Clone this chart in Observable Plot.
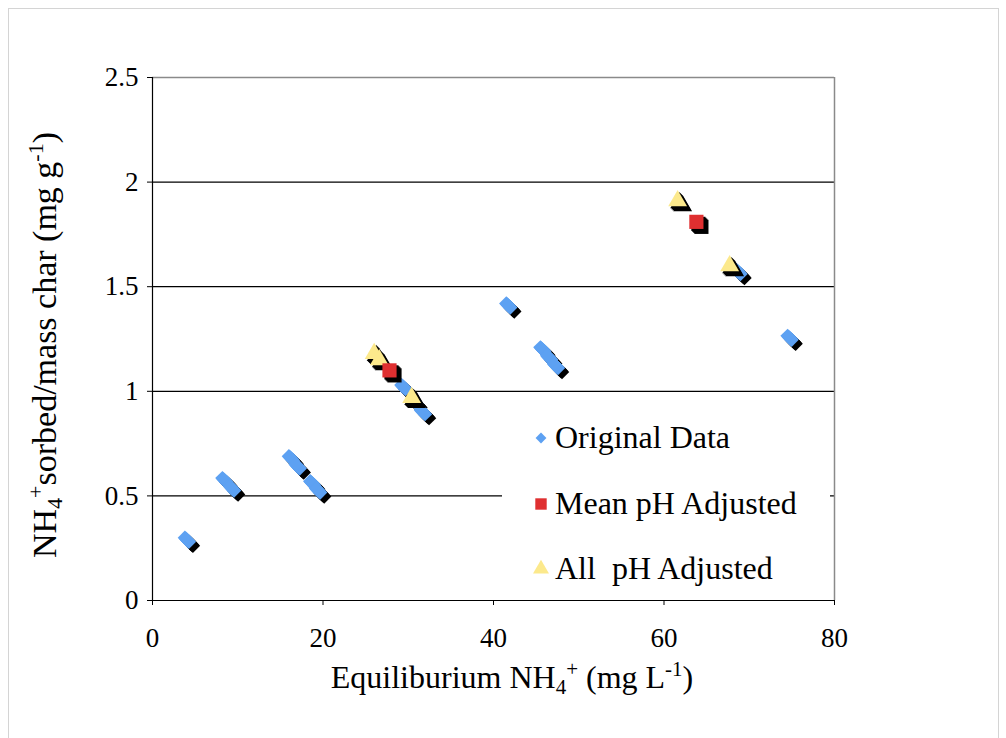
<!DOCTYPE html>
<html>
<head>
<meta charset="utf-8">
<script src="https://cdn.jsdelivr.net/npm/d3@7"></script>
<script src="https://cdn.jsdelivr.net/npm/@observablehq/plot@0.6"></script>
<style>
  html, body { margin: 0; padding: 0; background: #fff; }
  svg text { white-space: pre; }
</style>
</head>
<body>
<div id="chart"></div>
<script>
// ---- data ----
const origX = [3.8, 8.2, 9.1, 16.0, 16.8, 18.5, 19.2, 29.2, 30.5, 31.5, 41.5, 45.5, 46.3, 47.1, 68.5, 74.5];
const origY = [0.30, 0.585, 0.545, 0.69, 0.65, 0.57, 0.535, 1.03, 0.96, 0.91, 1.42, 1.21, 1.17, 1.13, 1.58, 1.265];
const meanX = [27.8, 63.8];
const meanY = [1.10, 1.81];
const allX = [26.0, 26.6, 30.4, 61.6, 67.7];
const allY = [1.18, 1.15, 0.97, 1.91, 1.60];
const xTicks = [0, 20, 40, 60, 80];
const yTicks = [0, 0.5, 1, 1.5, 2, 2.5];
const gridY = [0.5, 1, 1.5, 2];
const seriesNames = ["Original Data", "Mean pH Adjusted", "All  pH Adjusted"];

const BLUE = "#5DA1F2", RED = "#DF2F30", YELLOW = "#FCE98C";

const orig = origX.map((x, i) => ({x, y: origY[i]}));
const mean = meanX.map((x, i) => ({x, y: meanY[i]}));
const all = allX.map((x, i) => ({x, y: allY[i]}));

function layered(data, symbol, r, color, frontOffsets, backOffsets) {
  const m = [];
  for (const o of backOffsets) m.push(Plot.dot(data, {x: "x", y: "y", symbol, r, fill: "#000", dx: o, dy: o}));
  for (const o of frontOffsets) m.push(Plot.dot(data, {x: "x", y: "y", symbol, r, fill: color, dx: o, dy: o}));
  return m;
}

const W = 1006, H = 738;
const chart = Plot.plot({
  width: W, height: H,
  marginLeft: 152, marginRight: 172, marginTop: 77, marginBottom: 138,
  style: {fontFamily: "'Liberation Serif', 'Times New Roman', serif", fontSize: "27px", color: "#000", background: "#fff", overflow: "visible"},
  x: {domain: [0, 80], label: null},
  y: {domain: [0, 2.5], label: null},
  marks: [
    Plot.ruleY(gridY, {stroke: "#000", strokeWidth: 1.2}),
    Plot.ruleY([2.5], {stroke: "#8a8a8a", strokeWidth: 1.5}),
    Plot.ruleX([80], {stroke: "#8a8a8a", strokeWidth: 1.5}),
    Plot.ruleX([0], {stroke: "#000", strokeWidth: 1.2}),
    Plot.ruleY([0], {stroke: "#000", strokeWidth: 1.2}),
    Plot.axisX({ticks: xTicks, tickSize: 5, tickPadding: 22, tickFormat: d => String(d), stroke: "#000"}),
    Plot.axisY({ticks: yTicks, tickSize: 5, tickPadding: 9, tickFormat: d => String(d), stroke: "#000"}),
    ...layered(orig, "diamond2", 6.5, BLUE, [4, 3, 2, 1, 0], [4, 5, 6, 7, 8]),
    ...layered(all, "triangle", 7, YELLOW, [0], [2, 3, 4, 5]),
    ...layered(mean, "square", 8, RED, [0], [2, 3, 4, 5])
  ]
});
document.getElementById("chart").appendChild(chart);

const svg = d3.select(chart);
// outer chart border
svg.insert("rect", ":first-child").attr("x", 8.5).attr("y", 8.5).attr("width", 990).attr("height", 760)
  .attr("fill", "none").attr("stroke", "#d4d4d4").attr("stroke-width", 1);

const font = "'Liberation Serif', 'Times New Roman', serif";
// x axis title
const xt = svg.append("text").attr("x", 512).attr("y", 688).attr("text-anchor", "middle")
  .attr("font-family", font).attr("font-size", 32).attr("fill", "#000");
xt.append("tspan").text("Equiliburium NH");
xt.append("tspan").attr("font-size", 21).attr("dy", 6).text("4");
xt.append("tspan").attr("font-size", 21).attr("dy", -18).text("+");
xt.append("tspan").attr("dy", 12).text(" (mg L");
xt.append("tspan").attr("font-size", 21).attr("dy", -12).text("-1");
xt.append("tspan").attr("dy", 12).text(")");

// y axis title
const yt = svg.append("text").attr("transform", "translate(56,345) rotate(-90)").attr("text-anchor", "middle")
  .attr("font-family", font).attr("font-size", 34).attr("fill", "#000");
yt.append("tspan").text("NH");
yt.append("tspan").attr("font-size", 22).attr("dy", 6).text("4");
yt.append("tspan").attr("font-size", 22).attr("dy", -19).text("+");
yt.append("tspan").attr("dy", 13).text("sorbed/mass char (mg g");
yt.append("tspan").attr("font-size", 22).attr("dy", -13).text("-1");
yt.append("tspan").attr("dy", 13).text(")");

// legend
const lg = svg.append("g");
lg.append("rect").attr("x", 502).attr("y", 405).attr("width", 328).attr("height", 190).attr("fill", "#fff");
const items = [
  {name: seriesNames[0], sym: d3.symbolDiamond2, size: 75, color: BLUE, y: 438},
  {name: seriesNames[1], sym: d3.symbolSquare, size: 130, color: RED, y: 504},
  {name: seriesNames[2], sym: d3.symbolTriangle, size: 110, color: YELLOW, y: 569}
];
for (const it of items) {
  lg.append("path").attr("d", d3.symbol(it.sym, it.size)()).attr("transform", `translate(541,${it.y})`).attr("fill", it.color);
  lg.append("text").attr("x", 555).attr("y", it.y + 10).attr("text-anchor", "start").attr("font-family", font).attr("font-size", 32)
    .attr("fill", "#000").text(it.name);
}
</script>
</body>
</html>
